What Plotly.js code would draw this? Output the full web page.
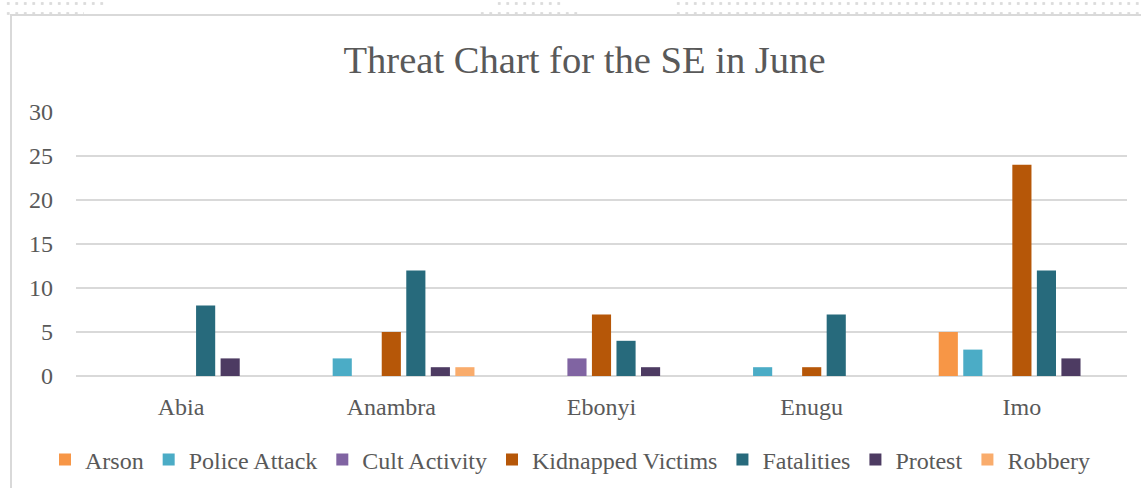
<!DOCTYPE html>
<html>
<head>
<meta charset="utf-8">
<script src="https://cdn.plot.ly/plotly-3.0.1.min.js"></script>
<style>
  html, body { margin: 0; padding: 0; background: #ffffff; }
  #wrap { position: relative; width: 1141px; height: 488px; overflow: hidden; }
  #frame { position: absolute; left: 10px; top: 14px; width: 1200px; height: 600px;
           border-left: 2px solid #d9d9d9; border-top: 2px solid #d9d9d9; }
  .dots { position: absolute; height: 7px;
          background-image: radial-gradient(circle, #dcdcdc 1.3px, rgba(255,255,255,0) 1.8px);
          background-size: 8.5px 7px; background-position: 0 0; }
  #chart { position: absolute; left: 0; top: 0; width: 1141px; height: 488px; }
</style>
</head>
<body>
<div id="wrap">
  <div class="dots" style="left:4px; top:0px; width:102px;"></div>
  <div class="dots" style="left:4px; top:10px; width:80px;"></div>
  <div class="dots" style="left:495px; top:0px; width:68px;"></div>
  <div class="dots" style="left:478px; top:10px; width:102px;"></div>
  <div class="dots" style="left:674px; top:0px; width:470px;"></div>
  <div class="dots" style="left:674px; top:10px; width:470px;"></div>
  <div id="frame"></div>
  <div id="chart"></div>
</div>
<script>
const categories = ["Abia", "Anambra", "Ebonyi", "Enugu", "Imo"];
const arson        = [0, 0, 0, 0, 5];
const policeAttack = [0, 2, 0, 1, 3];
const cultActivity = [0, 0, 2, 0, 0];
const kidnapped    = [0, 5, 7, 1, 24];
const fatalities   = [8, 12, 4, 7, 12];
const protest      = [2, 1, 1, 0, 2];
const robbery      = [0, 1, 0, 0, 0];
const yTicks = [0, 5, 10, 15, 20, 25, 30];

const seriesNames  = ["Arson", "Police Attack", "Cult Activity", "Kidnapped Victims", "Fatalities", "Protest", "Robbery"];
const seriesValues = [arson, policeAttack, cultActivity, kidnapped, fatalities, protest, robbery];
const seriesColors = ["#F79646", "#4BACC6", "#8064A2", "#B65708", "#276A7C", "#4D3B62", "#F9AC6C"];

const font = "Liberation Serif, Times New Roman, serif";
const textColor = "#595959";

const traces = seriesNames.map((n, i) => ({
  type: "bar",
  name: n,
  x: categories,
  y: seriesValues[i],
  marker: { color: seriesColors[i], line: { width: 0 } },
  hoverinfo: "x+y+name"
}));

const layout = {
  width: 1141,
  height: 488,
  paper_bgcolor: "rgba(0,0,0,0)",
  plot_bgcolor: "rgba(0,0,0,0)",
  margin: { l: 76, r: 14, t: 112, b: 112 },
  barmode: "group",
  bargap: 0.183,
  bargroupgap: 0.22,
  font: { family: font, color: textColor, size: 24 },
  title: {
    text: "Threat Chart for the SE in June",
    font: { family: font, size: 38.6, color: textColor },
    x: 584.5 / 1141, xanchor: "center",
    y: 1 - 59 / 488, yanchor: "middle"
  },
  xaxis: {
    type: "category",
    showgrid: false,
    zeroline: false,
    showline: false,
    ticks: "",
    ticklabelstandoff: 14,
    tickfont: { family: font, size: 24, color: textColor }
  },
  yaxis: {
    range: [0, 30],
    tickvals: yTicks,
    ticktext: yTicks.map(String),
    showgrid: true,
    gridcolor: "#d9d9d9",
    gridwidth: 1.5,
    zeroline: true,
    zerolinecolor: "#d9d9d9",
    zerolinewidth: 1.5,
    showline: false,
    ticks: "",
    ticklabelstandoff: 22,
    tickfont: { family: font, size: 24, color: textColor }
  },
  showlegend: true,
  legend: {
    orientation: "h",
    x: 0.5, xref: "container", xanchor: "center",
    y: 1 - 460 / 488, yref: "container", yanchor: "middle",
    font: { family: font, size: 24, color: textColor },
    traceorder: "normal",
    itemclick: false
  }
};

Plotly.newPlot("chart", traces, layout, { displayModeBar: false, staticPlot: true });
</script>
</body>
</html>
